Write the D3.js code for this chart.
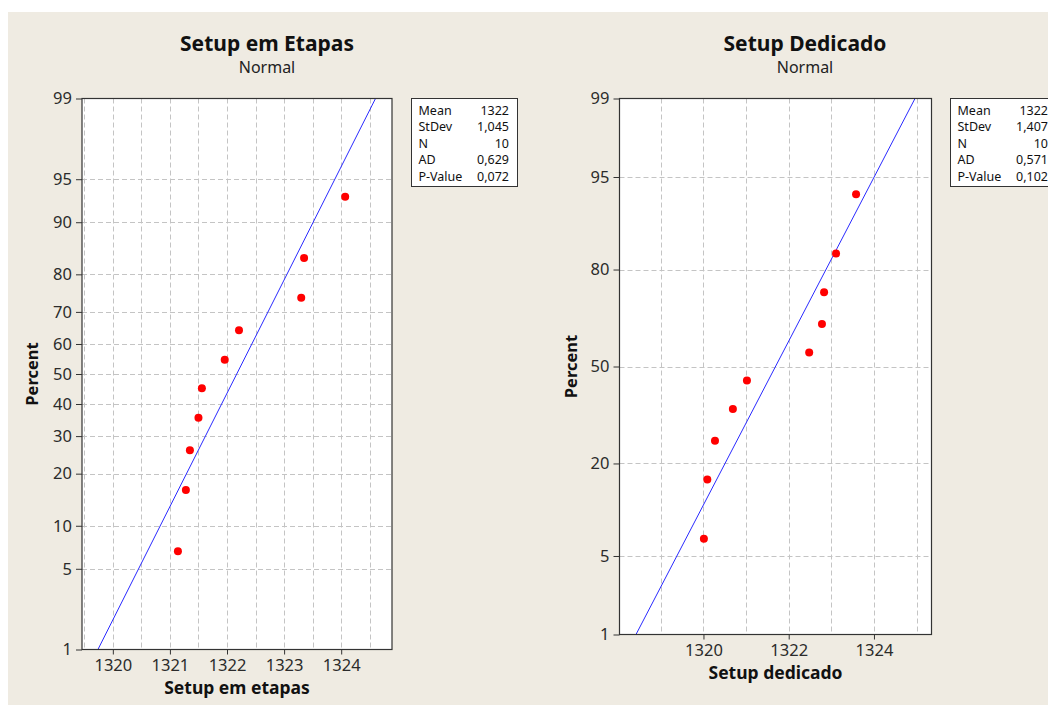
<!DOCTYPE html>
<html><head><meta charset="utf-8">
<script src="https://cdn.jsdelivr.net/npm/d3@7"></script>
<style>
html,body{margin:0;padding:0;background:#fff;}
svg{display:block;font-family:"Noto Sans","DejaVu Sans",sans-serif;}
</style></head>
<body>
<svg id="chart" width="1048" height="705"></svg>
<script>
// ---- data ----
const titles = ["Setup em Etapas", "Setup Dedicado"];
const subtitles = ["Normal", "Normal"];
const xTitles = ["Setup em etapas", "Setup dedicado"];
const yTitle = "Percent";
const etapas = [1321.14, 1321.28, 1321.35, 1321.50, 1321.56, 1321.96, 1322.21, 1323.30, 1323.35, 1324.07];
const dedicado = [1320.01, 1320.09, 1320.27, 1320.69, 1321.02, 1322.48, 1322.78, 1322.83, 1323.11, 1323.58];
const percents = [6.73, 16.35, 25.96, 35.58, 45.19, 54.81, 64.42, 74.04, 83.65, 93.27];
const fitMean = [1322.17, 1321.69];
const fitSd = [1.045, 1.407];
const yTicksLeft = [1, 5, 10, 20, 30, 40, 50, 60, 70, 80, 90, 95, 99];
const yTicksRight = [1, 5, 20, 50, 80, 95, 99];
const xTicksLeft = [1320, 1321, 1322, 1323, 1324];
const xTicksRight = [1320, 1322, 1324];
const xGridLeft = [1319.5, 1320, 1320.5, 1321, 1321.5, 1322, 1322.5, 1323, 1323.5, 1324, 1324.5];
const xGridRight = [1319, 1320, 1321, 1322, 1323, 1324, 1325];
const xDomainLeft = [1319.46, 1324.89];
const xDomainRight = [1318.03, 1325.35];
const statLabels = ["Mean", "StDev", "N", "AD", "P-Value"];
const statsLeft = ["1322", "1,045", "10", "0,629", "0,072"];
const statsRight = ["1322", "1,407", "10", "0,571", "0,102"];

// inverse normal CDF (Acklam)
function probit(pp) {
  const p = pp / 100;
  const a = [-3.969683028665376e+01, 2.209460984245205e+02, -2.759285104469687e+02, 1.383577518672690e+02, -3.066479806614716e+01, 2.506628277459239e+00];
  const b = [-5.447609879822406e+01, 1.615858368580409e+02, -1.556989798598866e+02, 6.680131188771972e+01, -1.328068155288572e+01];
  const c = [-7.784894002430293e-03, -3.223964580411365e-01, -2.400758277161838e+00, -2.549732539343734e+00, 4.374664141464968e+00, 2.938163982698783e+00];
  const d = [7.784695709041462e-03, 3.224671290700398e-01, 2.445134137142996e+00, 3.754408661907416e+00];
  const plow = 0.02425, phigh = 1 - plow;
  let q, r;
  if (p < plow) {
    q = Math.sqrt(-2 * Math.log(p));
    return (((((c[0]*q+c[1])*q+c[2])*q+c[3])*q+c[4])*q+c[5]) / ((((d[0]*q+d[1])*q+d[2])*q+d[3])*q+1);
  } else if (p <= phigh) {
    q = p - 0.5; r = q*q;
    return (((((a[0]*r+a[1])*r+a[2])*r+a[3])*r+a[4])*r+a[5])*q / (((((b[0]*r+b[1])*r+b[2])*r+b[3])*r+b[4])*r+1);
  } else {
    q = Math.sqrt(-2 * Math.log(1 - p));
    return -(((((c[0]*q+c[1])*q+c[2])*q+c[3])*q+c[4])*q+c[5]) / ((((d[0]*q+d[1])*q+d[2])*q+d[3])*q+1);
  }
}

const svg = d3.select("#chart");
svg.append("rect").attr("x", 0).attr("y", 0).attr("width", 1048).attr("height", 705).attr("fill", "#ffffff");
svg.append("rect").attr("x", 8).attr("y", 12).attr("width", 1040).attr("height", 693).attr("fill", "#efebe2");

const panels = [
  {x0: 82, x1: 392, y0: 98.5, y1: 649.5, data: etapas, xd: xDomainLeft, xt: xTicksLeft, xg: xGridLeft, yt: yTicksLeft,
   tx: 267, ylx: 38, stats: statsLeft, lx: 411.5, idx: 0},
  {x0: 619.5, x1: 931.5, y0: 98.5, y1: 634.5, data: dedicado, xd: xDomainRight, xt: xTicksRight, xg: xGridRight, yt: yTicksRight,
   tx: 805, ylx: 577, stats: statsRight, lx: 950.5, idx: 1}
];

panels.forEach(P => {
  const g = svg.append("g");
  const x = d3.scaleLinear().domain(P.xd).range([P.x0, P.x1]);
  const y = d3.scaleLinear().domain([probit(1), probit(99)]).range([P.y1, P.y0]);
  const clipId = "clip" + P.idx;
  svg.append("clipPath").attr("id", clipId).append("rect")
    .attr("x", P.x0).attr("y", P.y0).attr("width", P.x1 - P.x0).attr("height", P.y1 - P.y0);

  g.append("rect").attr("x", P.x0).attr("y", P.y0).attr("width", P.x1 - P.x0).attr("height", P.y1 - P.y0)
    .attr("fill", "#ffffff");

  // grid
  g.selectAll(".vg").data(P.xg).join("line")
    .attr("x1", d => Math.round(x(d)) + 0.5).attr("x2", d => Math.round(x(d)) + 0.5)
    .attr("y1", P.y0).attr("y2", P.y1)
    .attr("stroke", "#c4c4c4").attr("stroke-width", 1).attr("stroke-dasharray", "5,3");
  g.selectAll(".hg").data(P.yt.filter(v => v > 1 && v < 99)).join("line")
    .attr("x1", P.x0).attr("x2", P.x1)
    .attr("y1", d => Math.round(y(probit(d))) + 0.5).attr("y2", d => Math.round(y(probit(d))) + 0.5)
    .attr("stroke", "#c4c4c4").attr("stroke-width", 1).attr("stroke-dasharray", "5,3");

  // fitted line
  const m = fitMean[P.idx], s = fitSd[P.idx];
  const fitPts = [1, 99].map(p => [m + s * probit(p), p]);
  g.append("path").attr("clip-path", `url(#${clipId})`)
    .attr("d", d3.line().x(d => x(d[0])).y(d => y(probit(d[1])))(fitPts))
    .attr("fill", "none").attr("stroke", "#2a2aff").attr("stroke-width", 1);

  // points
  g.selectAll(".pt").data(P.data).join("circle")
    .attr("cx", d => x(d)).attr("cy", (d, i) => y(probit(percents[i])))
    .attr("r", 4).attr("fill", "#ff0000");

  // frame
  g.append("rect").attr("x", P.x0).attr("y", P.y0).attr("width", P.x1 - P.x0).attr("height", P.y1 - P.y0)
    .attr("fill", "none").attr("stroke", "#333333").attr("stroke-width", 1.2);

  // axes
  const yAxis = d3.axisLeft(y).tickValues(P.yt.map(probit)).tickFormat((d, i) => P.yt[i])
    .tickSize(6).tickPadding(4);
  const ya = g.append("g").attr("transform", `translate(${P.x0},0)`).call(yAxis);
  ya.select(".domain").remove();
  ya.selectAll(".tick line").attr("stroke", "#333");
  ya.selectAll(".tick text").attr("font-size", 16.5).attr("fill", "#2b2b2b").attr("font-family", "Noto Sans");

  const xAxis = d3.axisBottom(x).tickValues(P.xt).tickFormat(d => d).tickSize(5).tickPadding(5);
  const xa = g.append("g").attr("transform", `translate(0,${P.y1})`).call(xAxis);
  xa.select(".domain").remove();
  xa.selectAll(".tick line").attr("stroke", "#333");
  xa.selectAll(".tick text").attr("font-size", 16.5).attr("fill", "#2b2b2b").attr("font-family", "Noto Sans");

  // titles
  g.append("text").attr("x", P.tx).attr("y", 51).attr("text-anchor", "middle")
    .attr("font-size", 21).attr("font-weight", "bold").attr("fill", "#111").text(titles[P.idx]);
  g.append("text").attr("x", P.tx).attr("y", 73).attr("text-anchor", "middle")
    .attr("font-size", 16).attr("fill", "#222").text(subtitles[P.idx]);
  g.append("text").attr("x", (P.x0 + P.x1) / 2).attr("y", P.y1 + 44).attr("text-anchor", "middle")
    .attr("font-size", 17.5).attr("font-weight", "bold").attr("fill", "#111").text(xTitles[P.idx]);
  g.append("text").attr("transform", `translate(${P.ylx},${(P.y0 + P.y1) / 2}) rotate(-90)`)
    .attr("text-anchor", "middle")
    .attr("font-size", 16.5).attr("font-weight", "bold").attr("fill", "#111").text(yTitle);

  // stats box
  const lb = g.append("g");
  lb.append("rect").attr("x", P.lx).attr("y", 98.5).attr("width", 106).attr("height", 88)
    .attr("fill", "#ffffff").attr("stroke", "#333").attr("stroke-width", 1);
  statLabels.forEach((lab, i) => {
    lb.append("text").attr("x", P.lx + 7).attr("y", 114.5 + i * 16.6)
      .attr("font-size", 12.5).attr("fill", "#111").text(lab);
    lb.append("text").attr("x", P.lx + 97.5).attr("y", 114.5 + i * 16.6).attr("text-anchor", "end")
      .attr("font-size", 12.5).attr("fill", "#111").text(P.stats[i]);
  });
});
</script>
</body></html>
